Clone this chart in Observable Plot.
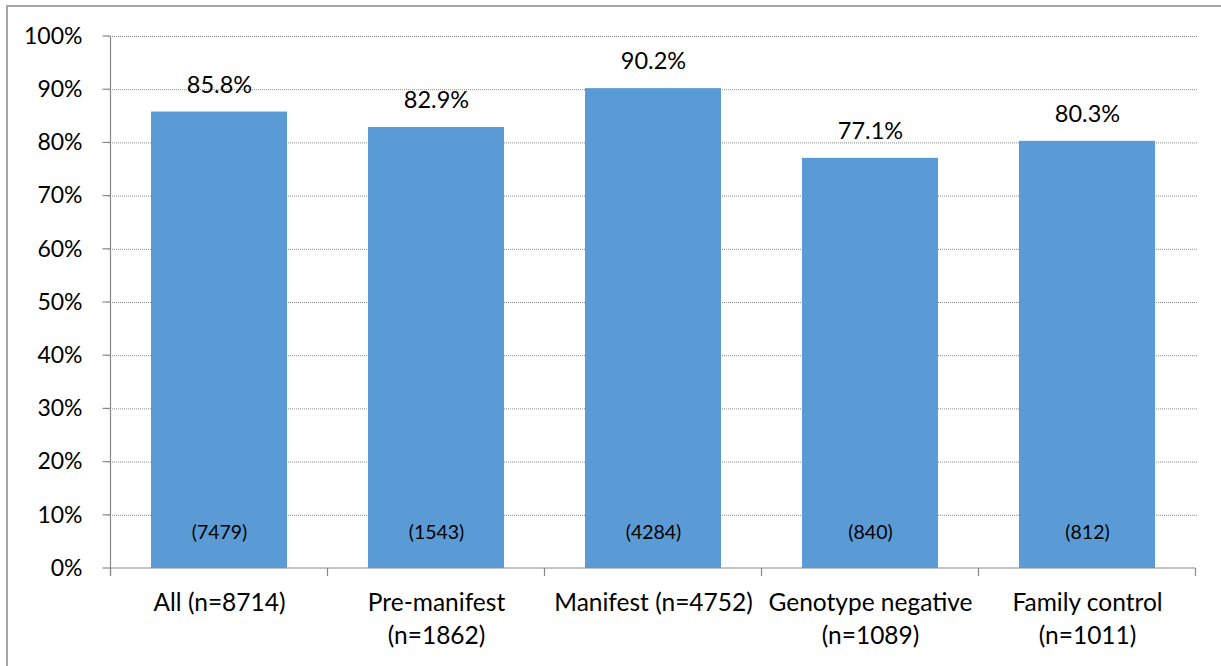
<!DOCTYPE html>
<html>
<head>
<meta charset="utf-8">
<script src="https://cdn.jsdelivr.net/npm/d3@7"></script>
<script src="https://cdn.jsdelivr.net/npm/@observablehq/plot@0.6"></script>
<style>
  html, body { margin: 0; padding: 0; background: #fff; overflow: hidden; }
  #wrap { position: relative; width: 1221px; height: 666px; }
  #border { position: absolute; left: 6px; top: 5px; width: 1400px; height: 800px;
            border: 2px solid #a6a6a6; pointer-events: none; box-sizing: border-box; }
  svg { display: block; }
</style>
</head>
<body>
<div id="wrap"><div id="border"></div></div>
<script>
// ---- data ----
const categories = ["All", "Pre-manifest", "Manifest", "Genotype negative", "Family control"];
const xTickLabels = ["All (n=8714)", "Pre-manifest\n(n=1862)", "Manifest (n=4752)", "Genotype negative\n(n=1089)", "Family control\n(n=1011)"];
const percentYes = [85.8, 82.9, 90.2, 77.1, 80.3];
const countYes = [7479, 1543, 4284, 840, 812];
const yTicks = [0, 10, 20, 30, 40, 50, 60, 70, 80, 90, 100];

const data = categories.map((c, i) => ({cat: c, pct: percentYes[i], n: countYes[i]}));
const labelOf = new Map(categories.map((c, i) => [c, xTickLabels[i]]));

const axisGray = "#898989";

// axis lines and category boundary ticks (decoration drawn from the scales)
function axisDecor(index, scales) {
  const {x, y} = scales;
  const step = x.step();
  const x0 = x(categories[0]) - (step - x.bandwidth()) / 2;
  const xN = x0 + step * categories.length;
  const yb = y(0), yt = y(100);
  const g = d3.create("svg:g").attr("stroke", axisGray).attr("stroke-width", 1.2).attr("fill", "none");
  g.append("line").attr("x1", x0).attr("x2", x0).attr("y1", yt).attr("y2", yb + 8);
  for (const t of yTicks) {
    g.append("line").attr("x1", x0 - 8).attr("x2", x0).attr("y1", y(t)).attr("y2", y(t));
  }
  g.append("line").attr("x1", x0).attr("x2", xN).attr("y1", yb).attr("y2", yb);
  for (let i = 0; i <= categories.length; i++) {
    const bx = x0 + i * step;
    g.append("line").attr("x1", bx).attr("x2", bx).attr("y1", yb).attr("y2", yb + 8);
  }
  return g.node();
}

const chart = Plot.plot({
  width: 1221,
  height: 666,
  marginLeft: 108,
  marginRight: 24,
  marginTop: 36,
  marginBottom: 98,
  style: {fontFamily: "Lato, 'Open Sans', sans-serif", fontSize: "23px", color: "#000", background: "transparent"},
  x: {domain: categories, paddingInner: 0.374, paddingOuter: 0.187, label: null},
  y: {domain: [0, 100], label: null},
  marks: [
    Plot.gridY(yTicks.filter(t => t > 0), {stroke: "#8a8a8a", strokeOpacity: 1, strokeDasharray: "1,1", strokeWidth: 1}),
    Plot.barY(data, {x: "cat", y: "pct", fill: "#5B9BD5"}),
    axisDecor,
    Plot.axisY(yTicks, {tickSize: 0, tickPadding: 26, tickFormat: d => d + "%", fontSize: 23, fill: "#000", label: null}),
    Plot.axisX({tickSize: 0, tickPadding: 18, tickFormat: d => labelOf.get(d), fontSize: 24.5, lineHeight: 1.38, fill: "#000", label: null}),
    Plot.text(data, {x: "cat", y: "pct", text: d => d.pct.toFixed(1) + "%", dy: -19.5, lineAnchor: "bottom", fontSize: 23.5, fill: "#000"}),
    Plot.text(data, {x: "cat", y: () => 0, text: d => "(" + d.n + ")", dy: -36, lineAnchor: "middle", fontSize: 19.5, fill: "#000"})
  ]
});

document.getElementById("wrap").prepend(chart);
</script>
</body>
</html>
